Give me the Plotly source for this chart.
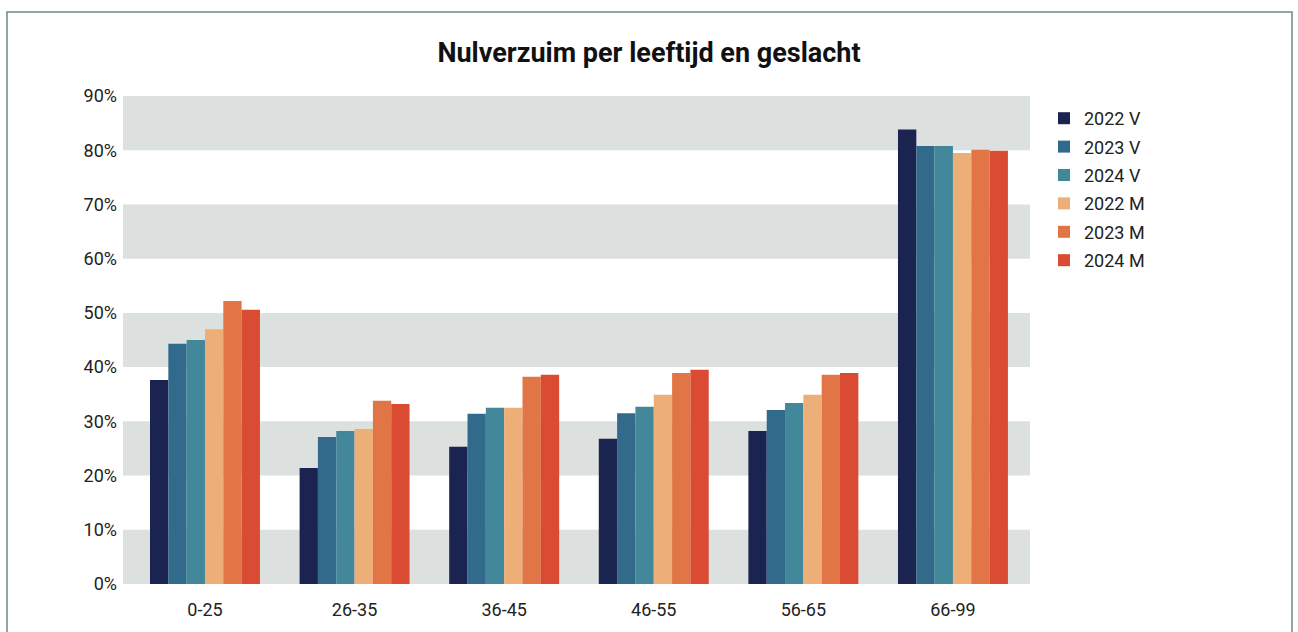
import plotly.graph_objects as go

categories = ["0-25", "26-35", "36-45", "46-55", "56-65", "66-99"]
series_names = ["2022 V", "2023 V", "2024 V", "2022 M", "2023 M", "2024 M"]
v2022 = [37.6, 21.4, 25.3, 26.8, 28.2, 83.8]
v2023 = [44.3, 27.1, 31.4, 31.5, 32.1, 80.8]
v2024 = [45.0, 28.2, 32.5, 32.7, 33.4, 80.8]
m2022 = [47.0, 28.6, 32.5, 34.9, 34.9, 79.5]
m2023 = [52.2, 33.8, 38.2, 38.9, 38.6, 80.1]
m2024 = [50.6, 33.2, 38.6, 39.5, 38.9, 79.9]
y_ticks = [0, 10, 20, 30, 40, 50, 60, 70, 80, 90]
y_tick_labels = [f"{v}%" for v in y_ticks]

colors = ["#1b2350", "#316a8a", "#43889a", "#eeae78", "#e27545", "#d94b32"]
series = [v2022, v2023, v2024, m2022, m2023, m2024]

fig = go.Figure()
for name, vals, col in zip(series_names, series, colors):
    fig.add_trace(go.Bar(x=categories, y=vals, name=name, marker_color=col,
                         marker_line_width=0, legendgroup=name))

shapes = []
for i in range(0, len(y_ticks) - 1, 2):
    shapes.append(dict(type="rect", xref="paper", yref="y", x0=0, x1=1,
                       y0=y_ticks[i], y1=y_ticks[i + 1], fillcolor="#dce1df",
                       line_width=0, layer="below"))
L, R, T, B = 123, 268, 96, 48
pw, ph = 1298 - L - R, 632 - T - B
shapes.append(dict(type="rect", xref="paper", yref="paper",
                   x0=(7 - L) / pw, x1=(1292 - L) / pw,
                   y0=(632 - B - 660) / ph, y1=(632 - B - 12) / ph,
                   line=dict(color="#6f8a80", width=1.5), fillcolor="rgba(0,0,0,0)"))

fig.update_layout(
    width=1298, height=632,
    margin=dict(l=L, r=R, t=T, b=B),
    paper_bgcolor="white", plot_bgcolor="white",
    barmode="group", bargap=0.265, bargroupgap=0,
    title=dict(text="<b>Nulverzuim per leeftijd en geslacht</b>", x=0.5, xref="container",
               xanchor="center", y=1 - 53 / 632, yanchor="middle",
               font=dict(family="Roboto", size=27, color="#111111")),
    font=dict(family="Roboto", size=18, color="#222222"),
    xaxis=dict(showgrid=False, showline=False, ticks="", tickfont=dict(size=18),
               ticklabelstandoff=13, range=[-0.548, 5.515]),
    yaxis=dict(range=[0, 90], tickmode="array", tickvals=y_ticks, ticktext=y_tick_labels,
               showgrid=False, zeroline=False, showline=False, ticks="",
               tickfont=dict(size=18), ticklabelstandoff=5),
    legend=dict(x=1 + (1044 - L - pw) / pw, xanchor="left", y=(632 - B - 100) / ph,
                yanchor="top", font=dict(size=18), tracegroupgap=2,
                itemwidth=30, traceorder="grouped"),
    shapes=shapes,
)
fig.write_html("out.html", post_script="document.body.style.margin='0';",
               config={"displayModeBar": False})
